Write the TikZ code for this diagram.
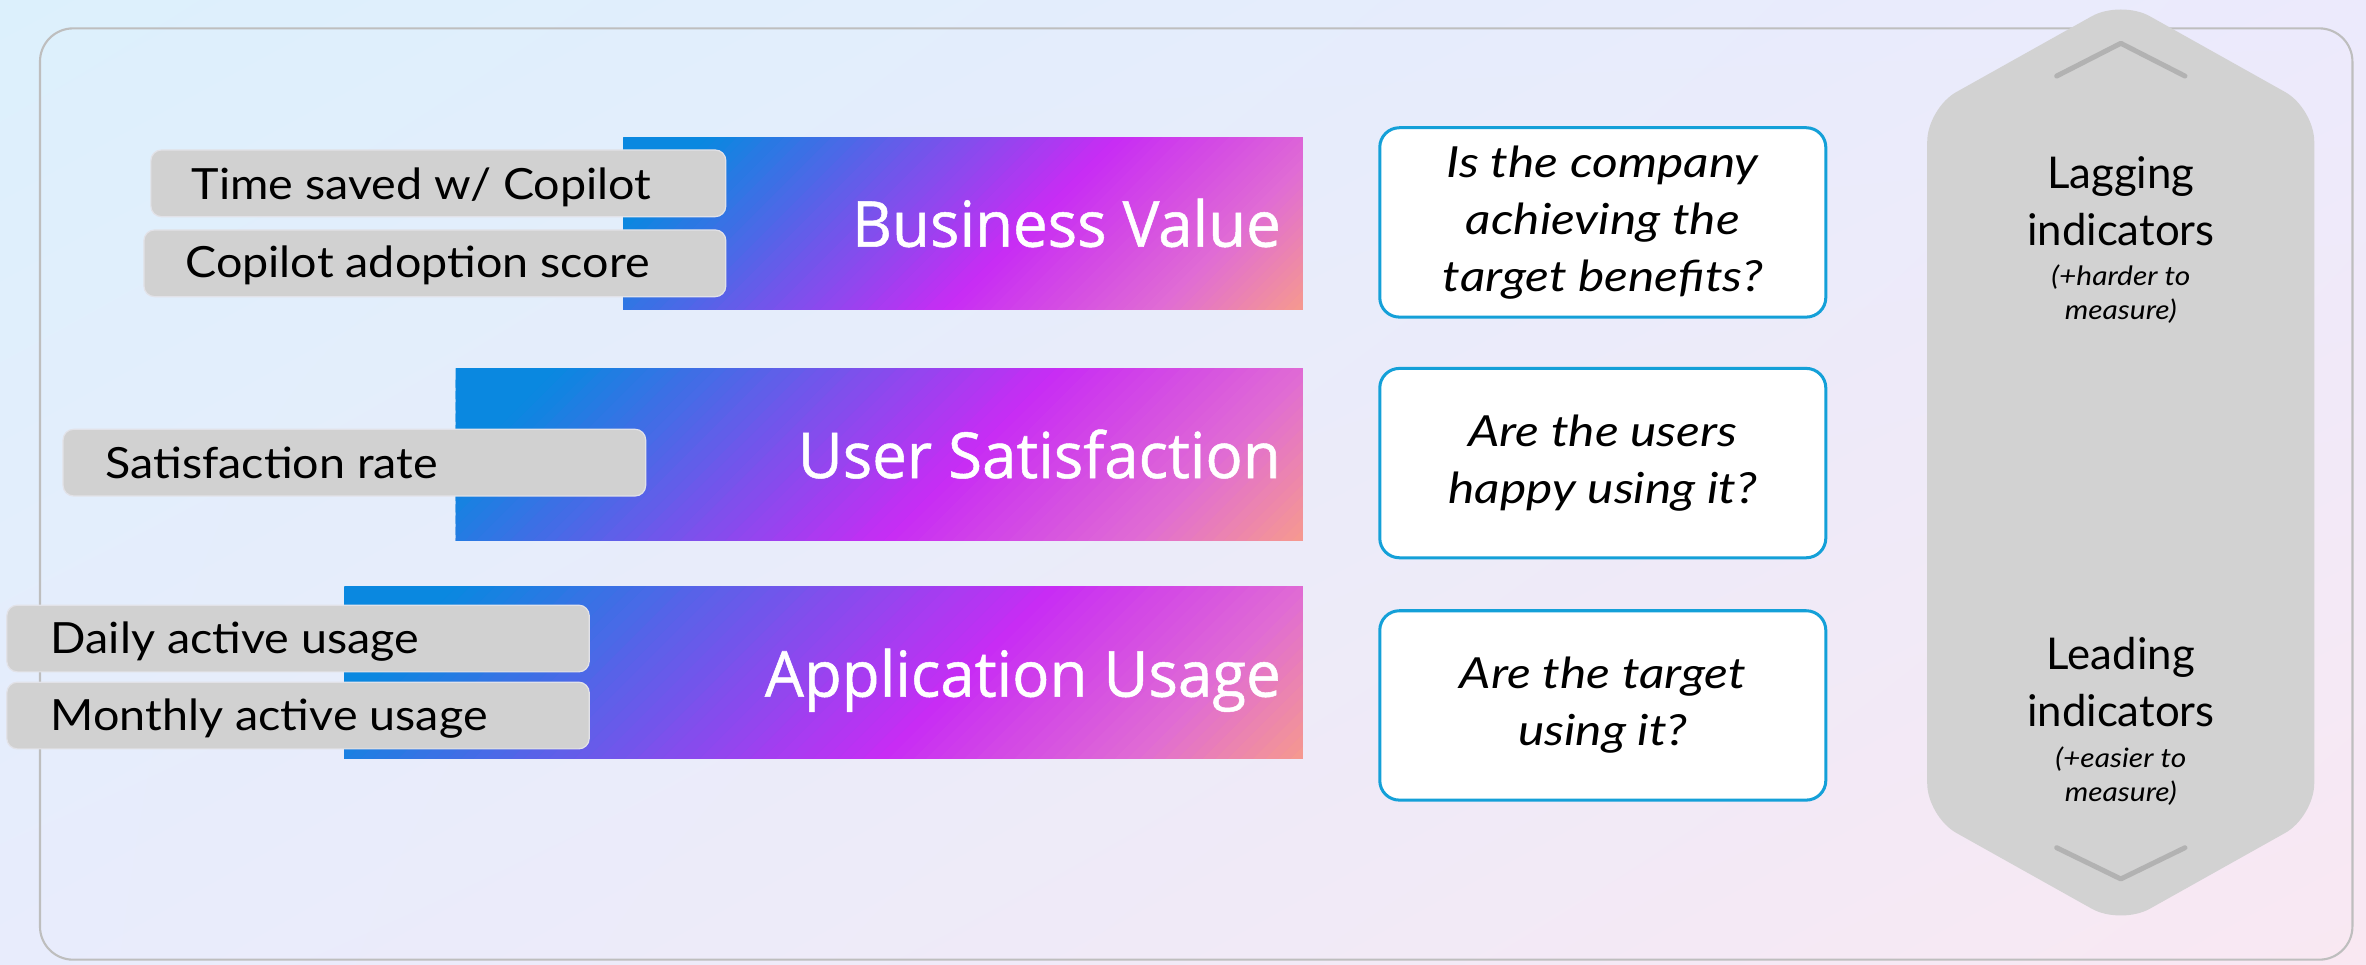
\documentclass[tikz,border=0pt]{standalone}
\usepackage{fontspec}
\usetikzlibrary{shadings}
\newfontfamily\lblfont[FakeStretch=1.085]{Lato}
\newfontfamily\hexfont{Lato}
\newfontfamily\qfont[FakeStretch=1.16]{Lato}
\newfontfamily\smallfont[FakeStretch=1.12]{Lato}
\newfontfamily\titlefont[FakeBold=0.8,FakeStretch=0.975]{Open Sans}
\definecolor{cblue}{RGB}{10,136,224}
\definecolor{cmag}{RGB}{200,44,244}
\definecolor{cpink}{RGB}{224,108,212}
\definecolor{csalmon}{RGB}{246,154,142}
\definecolor{bgA}{RGB}{220,240,252}
\definecolor{bgB}{RGB}{236,234,252}
\definecolor{bgC}{RGB}{232,236,252}
\definecolor{bgD}{RGB}{249,232,242}
\definecolor{framegray}{RGB}{190,190,190}
\definecolor{boxgray}{RGB}{209,209,209}
\definecolor{boxedge}{RGB}{226,226,232}
\definecolor{qblue}{RGB}{20,160,216}
\definecolor{hexgray}{RGB}{210,210,210}
\definecolor{chevgray}{RGB}{178,178,178}
% diagonal gradient bar: #1 left x, #2 top y, #3 width, #4 height, #5 magenta position (0..1)
\newcommand\mygradbar[5]{%
  \begin{scope}
    \clip (#1,#2) rectangle ++(#3,#4);
    \pgfmathsetmacro\gS{(#3+#4)*0.70711}%
    \pgfmathsetmacro\gll{#3*0.70711}%
    \pgfmathsetmacro\gTp{#5+0.6*(1-#5)}%
    \foreach \i in {0,...,89}{%
      \pgfmathsetmacro\gt{(\i+0.5)/90}%
      \pgfmathsetmacro\gsa{\i/90*\gS*0.70711}%
      \pgfmathsetmacro\gsb{(\i+1.7)/90*\gS*0.70711}%
      \ifdim\gt pt<0.1pt
        \colorlet{gcol}{cblue}%
      \else\ifdim\gt pt<#5pt
        \pgfmathtruncatemacro\gp{100*(\gt-0.1)/(#5-0.1)}%
        \colorlet{gcol}{cmag!\gp!cblue}%
      \else\ifdim\gt pt<\gTp pt
        \pgfmathtruncatemacro\gp{100*(\gt-#5)/(\gTp-#5)}%
        \colorlet{gcol}{cpink!\gp!cmag}%
      \else
        \pgfmathtruncatemacro\gp{100*(\gt-\gTp)/(1-\gTp)}%
        \colorlet{gcol}{csalmon!\gp!cpink}%
      \fi\fi\fi
      \fill[gcol] (#1+\gsa-\gll, #2+\gsa+\gll) -- (#1+\gsa+\gll, #2+\gsa-\gll) -- (#1+\gsb+\gll, #2+\gsb-\gll) -- (#1+\gsb-\gll, #2+\gsb+\gll) -- cycle;
    }%
  \end{scope}}
\begin{document}
\begin{tikzpicture}[x=1pt,y=-1pt,
  bar/.style={inner sep=0pt, outer sep=0pt, minimum height=114},
  titletext/.style={anchor=base east, inner sep=0pt, text=white, font=\titlefont\fontsize{42}{50}\selectfont},
  lblbox/.style={fill=boxgray, draw=boxedge, line width=0.8, rounded corners=7, minimum height=44.2, inner sep=0pt},
  lbltext/.style={anchor=base west, inner sep=0pt, font=\lblfont\fontsize{28.5}{34}\selectfont},
  qbox/.style={draw=qblue, line width=2, fill=white, rounded corners=13, minimum width=295.6, minimum height=125.5, inner sep=0pt, align=center, font=\qfont\itshape\fontsize{28.4}{37.7}\selectfont},
  hexbig/.style={anchor=base, inner sep=0pt, align=center, font=\hexfont\fontsize{29}{38.2}\selectfont},
  hexsmall/.style={anchor=base, inner sep=0pt, align=center, font=\smallfont\itshape\fontsize{17.7}{22.5}\selectfont},
  chev/.style={draw=chevgray, line width=3.3, line cap=round, line join=round}
]
\shade[upper left=bgA, upper right=bgB, lower left=bgC, lower right=bgD] (0,0) rectangle (1568,639);
\useasboundingbox (0,0) rectangle (1568,639);
% frame
\draw[framegray, line width=1.4, rounded corners=22] (26.5,18.8) rectangle (1559,636);
% bars
\mygradbar{413}{91}{450.5}{114}{0.58}
\mygradbar{302}{244.2}{561.5}{114}{0.59}
\mygradbar{228}{388.9}{635.5}{114}{0.627}
\node[bar, minimum width=450.5] (bv) at (638.25,148) {};
\node[bar, minimum width=561.5] (us) at (582.75,301.2) {};
\node[bar, minimum width=635.5] (au) at (545.75,445.9) {};
\node[titletext] (bvt) at (849,163.5) {Business Value};
\node[titletext] (ust) at (849,316.8) {User Satisfaction};
\node[titletext] (aut) at (849,461.7) {Application Usage};
% gray label boxes
\node[lblbox, minimum width=381] (tsb) at (290.5,121.5) {};
\node[lblbox, minimum width=385.6] (cas) at (288.2,174.5) {};
\node[lblbox, minimum width=386.1] (sr) at (234.85,306.6) {};
\node[lblbox, minimum width=386] (dau) at (197.5,423.15) {};
\node[lblbox, minimum width=386] (mau) at (197.5,474.2) {};
\node[lbltext] (tsbt) at (127,132) {Time saved w/ Copilot};
\node[lbltext] (cast) at (122.7,184) {Copilot adoption score};
\node[lbltext] (srt) at (69.7,316.8) {Satisfaction rate};
\node[lbltext] (daut) at (33.5,433) {Daily active usage};
\node[lbltext] (maut) at (33.5,483.8) {Monthly active usage};
% question boxes
\node[qbox] (q1) at (1062.2,147.4) {Is the company\\achieving the\\target benefits?};
\node[qbox] (q2) at (1062.2,306.9) {Are the users\\happy using it?};
\node[qbox] (q3) at (1062.2,467.5) {Are the target\\using it?};
% indicator shape
\fill[hexgray, rounded corners=22] (1277.2,306.5) -- (1277.2,71.8) -- (1405.5,0) -- (1533.7,71.8) -- (1533.7,541.2) -- (1405.5,613) -- (1277.2,541.2) -- cycle;
\draw[chev] (1363,50.4) -- (1405.5,28.7) -- (1448,50.4);
\draw[chev] (1363,561.8) -- (1405.5,582.5) -- (1448,561.8);
\node[hexbig] (lag) at (1405.5,163) {Lagging\\indicators};
\node[hexsmall] (lags) at (1405.5,212) {(+harder to\\measure)};
\node[hexbig] (lead) at (1405.5,481.6) {Leading\\indicators};
\node[hexsmall] (leads) at (1405.5,531.3) {(+easier to\\measure)};
\end{tikzpicture}
\end{document}
